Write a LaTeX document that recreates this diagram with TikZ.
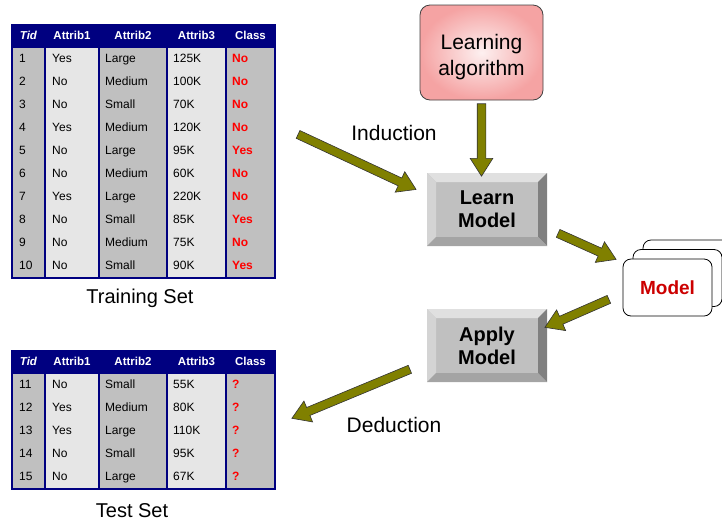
\documentclass[tikz,border=0pt]{standalone}
\usepackage{fontspec}
\setmainfont{Liberation Sans}
\usetikzlibrary{shapes.arrows,calc}
\definecolor{navy}{HTML}{000080}
\definecolor{cgray}{HTML}{C0C0C0}
\definecolor{clight}{HTML}{E6E6E6}
\definecolor{olivef}{HTML}{808000}
\definecolor{pinkout}{HTML}{F5A3A3}
\definecolor{pinkin}{HTML}{FDF0F0}
\definecolor{redtxt}{HTML}{FF0000}
\definecolor{modelred}{HTML}{CC0000}
\definecolor{bvtop}{HTML}{E0E0E0}
\definecolor{bvleft}{HTML}{D4D4D4}
\definecolor{bvright}{HTML}{808080}
\definecolor{bvbot}{HTML}{A4A4A4}
\tikzset{
  cell/.style={anchor=mid west, inner sep=0pt, font=\fontsize{12}{14}\selectfont},
  clscell/.style={anchor=mid west, inner sep=0pt, text=redtxt, font=\fontsize{12}{14}\selectfont\bfseries},
  hdr/.style={anchor=mid, inner sep=0pt, text=white, font=\fontsize{11.5}{14}\selectfont\bfseries},
  caption/.style={inner sep=0pt, font=\fontsize{20}{24}\selectfont},
  blockarrow/.style={single arrow, draw=black!80, line width=0.6pt, fill=olivef, inner sep=4pt,
    minimum width=22pt, single arrow head extend=7pt, single arrow tip angle=65, anchor=center},
  bevelbtn/.style={minimum width=120pt, minimum height=73pt, fill=cgray, inner sep=0pt, align=center,
    font=\fontsize{20}{23}\selectfont\bfseries,
    path picture={
      \fill[bvtop] (path picture bounding box.north west) -- (path picture bounding box.north east)
        -- ([shift={(-9pt,-9pt)}]path picture bounding box.north east) -- ([shift={(9pt,-9pt)}]path picture bounding box.north west) -- cycle;
      \fill[bvleft] (path picture bounding box.north west) -- (path picture bounding box.south west)
        -- ([shift={(9pt,9pt)}]path picture bounding box.south west) -- ([shift={(9pt,-9pt)}]path picture bounding box.north west) -- cycle;
      \fill[bvright] (path picture bounding box.north east) -- (path picture bounding box.south east)
        -- ([shift={(-9pt,9pt)}]path picture bounding box.south east) -- ([shift={(-9pt,-9pt)}]path picture bounding box.north east) -- cycle;
      \fill[bvbot] (path picture bounding box.south west) -- (path picture bounding box.south east)
        -- ([shift={(-9pt,9pt)}]path picture bounding box.south east) -- ([shift={(9pt,9pt)}]path picture bounding box.south west) -- cycle;
    }},
  card/.style={draw=black, line width=0.8pt, fill=white, rounded corners=8pt, minimum width=89pt, minimum height=57pt, inner sep=0pt}
}
\newcommand\dtable[4]{%
  \pgfmathsetmacro\tbot{#2+23+23*#3}%
  \pgfmathsetmacro\hbot{#2+23}%
  \fill[cgray] (12,\hbot) rectangle (45,\tbot);
  \fill[clight] (45,\hbot) rectangle (99,\tbot);
  \fill[cgray] (99,\hbot) rectangle (167,\tbot);
  \fill[clight] (167,\hbot) rectangle (226,\tbot);
  \fill[cgray] (226,\hbot) rectangle (275,\tbot);
  \fill[navy] (12,#2) rectangle (275,\hbot);
  \foreach \xx in {45,99,167,226} \draw[navy, line width=1.2pt] (\xx,\hbot) -- (\xx,\tbot);
  \draw[navy, line width=1.5pt] (12,#2) rectangle (275,\tbot);
  \node[hdr, font=\fontsize{11.5}{14}\selectfont\bfseries\itshape] (#1-h0) at (28.5,#2+11.5) {Tid};
  \node[hdr] (#1-h1) at (72,#2+11.5) {Attrib1};
  \node[hdr] (#1-h2) at (133,#2+11.5) {Attrib2};
  \node[hdr] (#1-h3) at (196.5,#2+11.5) {Attrib3};
  \node[hdr] (#1-h4) at (250.5,#2+11.5) {Class};
  \foreach \t/\a/\b/\c/\k [count=\i] in {#4} {
    \pgfmathsetmacro\yy{\hbot+11.5+23*(\i-1)}
    \node[cell] (#1-\i-0) at (19,\yy) {\t};
    \node[cell] (#1-\i-1) at (52,\yy) {\a};
    \node[cell] (#1-\i-2) at (105,\yy) {\b};
    \node[cell] (#1-\i-3) at (173,\yy) {\c};
    \node[clscell] (#1-\i-4) at (232,\yy) {\k};
  }
}
\newcommand\barrow[3]{\path let \p1=(#1), \p2=(#2), \n1={atan2(\y2-\y1,\x2-\x1)}, \n2={veclen(\x2-\x1,\y2-\y1)} in
  node[blockarrow, minimum height=\n2, rotate=\n1] (#3) at ($(\p1)!0.5!(\p2)$) {};}
\begin{document}
\begin{tikzpicture}[x=1pt,y=-1pt]
\useasboundingbox (0,0) rectangle (722,523);
\dtable{tr}{25}{10}{1/Yes/Large/125K/No, 2/No/Medium/100K/No, 3/No/Small/70K/No, 4/Yes/Medium/120K/No, 5/No/Large/95K/Yes, 6/No/Medium/60K/No, 7/Yes/Large/220K/No, 8/No/Small/85K/Yes, 9/No/Medium/75K/No, 10/No/Small/90K/Yes}
\dtable{te}{351}{5}{11/No/Small/55K/?, 12/Yes/Medium/80K/?, 13/Yes/Large/110K/?, 14/No/Small/95K/?, 15/No/Large/67K/?}
\node[caption] (trcap) at (140,298) {Training Set};
\node[caption] (tecap) at (132,511) {Test Set};
% learning algorithm
\node[draw=black!75, line width=0.8pt, rounded corners=10pt, inner color=pinkin, outer color=pinkout,
  minimum width=123pt, minimum height=95pt, align=center, font=\fontsize{21}{26}\selectfont] (algo) at (481.5,52.5) {\rule{0pt}{25pt}Learning\\algorithm};
\node[bevelbtn] (learn) at (487,209.5) {Learn\\Model};
\node[bevelbtn] (apply) at (487,345.5) {Apply\\Model};
% model stack
\node[card] (card3) at (687.5,268.5) {};
\node[card] (card2) at (677.5,278) {};
\node[card, text=modelred, font=\fontsize{19}{22}\selectfont\bfseries] (card1) at (667.5,287.5) {Model};
% labels
\node[caption, font=\fontsize{21}{24}\selectfont] (indlab) at (394,133) {Induction};
\node[caption, font=\fontsize{21}{24}\selectfont] (dedlab) at (394,425) {Deduction};
% arrows
\coordinate (indS) at (295,133); \coordinate (indE) at (413,188);
\coordinate (lmS) at (555,232); \coordinate (lmE) at (613,258);
\coordinate (maS) at (612,298); \coordinate (maE) at (548,326);
\coordinate (dedS) at (413,368); \coordinate (dedE) at (295,417);
\coordinate (algoE) at (algo.south |- learn.north);
\barrow{indS}{indE}{a1}
\barrow{algo.south}{algoE}{a2}
\barrow{lmS}{lmE}{a3}
\barrow{maS}{maE}{a4}
\barrow{dedS}{dedE}{a5}
\end{tikzpicture}
\end{document}
